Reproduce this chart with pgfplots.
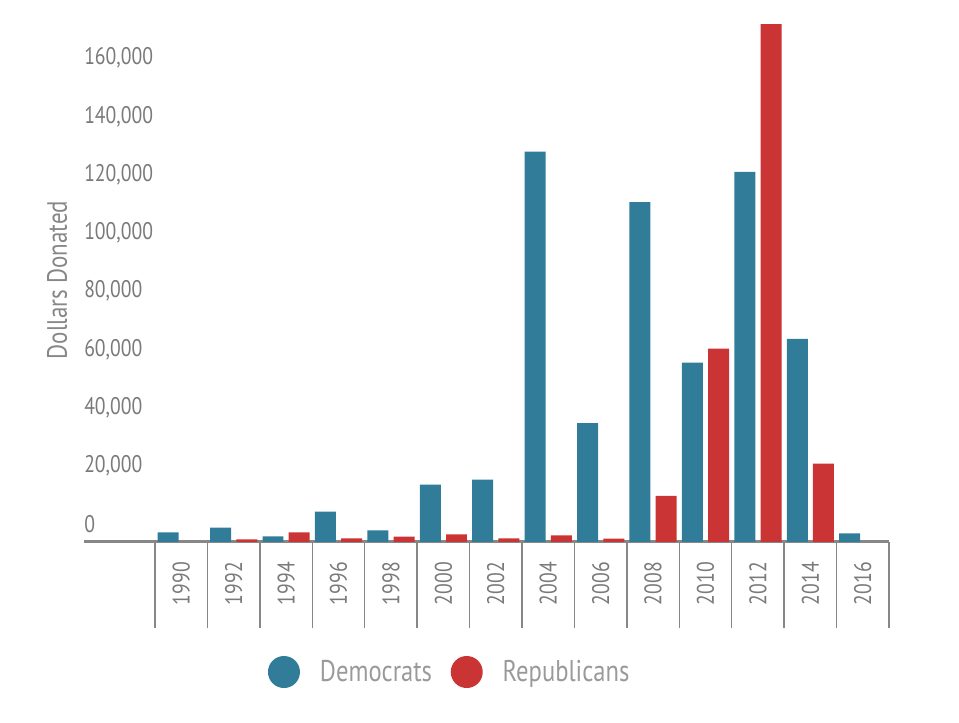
\documentclass[border=0pt]{standalone}
\usepackage{fontspec}
\setmainfont{PT Sans}[FakeStretch=0.82]
\usepackage{pgfplots}
\pgfplotsset{compat=1.18}
\definecolor{demblue}{HTML}{307C99}
\definecolor{repred}{HTML}{CB3434}
\definecolor{axgray}{HTML}{878787}
\definecolor{tickgray}{HTML}{7A7A7A}
\definecolor{leggray}{HTML}{9A9A9A}
\begin{document}
\begin{tikzpicture}
\useasboundingbox (0,0) rectangle (719.25pt,542.25pt);
\begin{axis}[
  at={(63pt,135.75pt)}, anchor=south west,
  scale only axis, width=603.75pt, height=393.5pt,
  xmin=-1.855, xmax=13.5, ymin=0, ymax=180000,
  axis lines*=left,
  x axis line style={line width=2.25pt, draw=axgray},
  y axis line style={draw=none},
  xtick={0,1,...,13},
  xticklabels={1990,1992,1994,1996,1998,2000,2002,2004,2006,2008,2010,2012,2014,2016},
  minor xtick={-0.5,0.5,...,13.5},
  tick align=outside,
  major tick length=0pt,
  minor tick length=64.5pt,
  minor tick style={line width=1.1pt, draw=axgray},
  xticklabel style={yshift=-15pt, rotate=90, anchor=east, inner sep=0pt, text=tickgray, font=\fontsize{18}{20}\selectfont},
  ytick={0,20000,...,160000},
  scaled y ticks=false,
  /pgf/number format/assume math mode=true,
  yticklabel style={/pgf/number format/1000 sep={,}, /pgf/number format/fixed, anchor=west, inner sep=0pt, yshift=13.2pt, text=tickgray, font=\fontsize{18}{20}\selectfont},
  ylabel={Dollars Donated},
  ylabel style={at={(axis description cs:-0.0335,0.4993)}, anchor=center, text=axgray, font=\fontsize{21}{24}\selectfont},
  legend style={at={(axis description cs:0.4547,-0.2478)}, anchor=center, draw=none, fill=none,
    font=\fontsize{22.5}{26}\selectfont, text=leggray, legend columns=2,
    /tikz/every even column/.append style={column sep=12pt}},
  legend cell align=left,
]
\addplot[ybar, bar width=0.4, bar shift=-0.25, fill=demblue, draw=none, forget plot]
  coordinates {(0,3300) (1,4900) (2,1950) (3,10400) (4,4000) (5,19650) (6,21400) (7,133900) (8,40800) (9,116600) (10,61500) (11,127000) (12,69700) (13,3000)};
\addplot[ybar, bar width=0.4, bar shift=0.25, fill=repred, draw=none, forget plot]
  coordinates {(1,900) (2,3300) (3,1250) (4,1800) (5,2650) (6,1250) (7,2300) (8,1150) (9,15800) (10,66300) (11,177700) (12,26900)};
\addlegendimage{legend image code/.code={\fill[demblue, draw=none] (12pt,0pt) circle (12pt); \path[draw=none, fill=none] (0pt,-12pt) rectangle (37pt,12pt);}}
\addlegendentry{Democrats}
\addlegendimage{legend image code/.code={\fill[repred, draw=none] (12pt,0pt) circle (12pt); \path[draw=none, fill=none] (0pt,-12pt) rectangle (37pt,12pt);}}
\addlegendentry{Republicans}
\end{axis}
\end{tikzpicture}
\end{document}
